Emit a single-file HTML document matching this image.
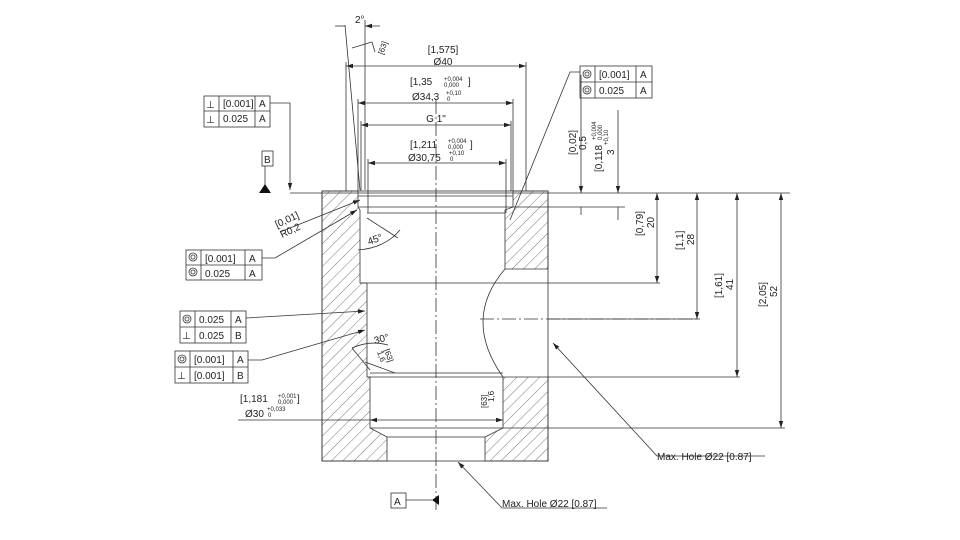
<!DOCTYPE html>
<html><head><meta charset="utf-8"><style>
html,body{margin:0;padding:0;background:#fff;}
svg{display:block;font-family:"Liberation Sans","DejaVu Sans",sans-serif;}
text{fill:#222;}
</style></head><body>
<svg width="960" height="540" viewBox="0 0 960 540" xmlns="http://www.w3.org/2000/svg">
<defs>
<pattern id="h" patternUnits="userSpaceOnUse" width="8" height="8" patternTransform="rotate(45)">
<line x1="0" y1="0" x2="0" y2="8" stroke="#555" stroke-width="0.8"/>
</pattern>
<marker id="a" markerWidth="8" markerHeight="6" refX="7" refY="3" orient="auto" markerUnits="userSpaceOnUse"><path d="M0,0.8 L7,3 L0,5.2z" fill="#222"/></marker>
<marker id="b" markerWidth="8" markerHeight="6" refX="1" refY="3" orient="auto" markerUnits="userSpaceOnUse"><path d="M8,0.8 L1,3 L8,5.2z" fill="#222"/></marker>
</defs>
<g stroke="#333" stroke-width="0.8" fill="none">
<path d="M322,191 L358,191 L358,207 L360,210 L360,283 L367,283 L367,377 L370,377 L370,428 L387,437 L387,461 L322,461Z" fill="url(#h)"/>
<path d="M513,191 L548,191 L548,269 L505,269 L505,210 L513,207Z" fill="url(#h)"/>
<path d="M503,377 L548,377 L548,461 L485,461 L485,437 L503,428Z" fill="url(#h)"/>
<rect x="322" y="191" width="226" height="270"/>
<line x1="358" y1="207" x2="513" y2="207"/>
<line x1="358" y1="196" x2="513" y2="196"/>
<line x1="367" y1="213" x2="505" y2="213"/>
<line x1="360" y1="283" x2="548" y2="283"/>
<line x1="367" y1="377" x2="503" y2="377"/>
<line x1="370" y1="373" x2="503" y2="373"/>
<line x1="370" y1="428" x2="548" y2="428"/>
<line x1="387" y1="437" x2="485" y2="437"/>
<path d="M505,269 Q462,319 503,377"/>
<line x1="436" y1="100" x2="436" y2="512" stroke-dasharray="14,3,2,3"/>
<line x1="480" y1="319" x2="700" y2="319" stroke-dasharray="14,3,2,3"/>
<line x1="290" y1="193" x2="790" y2="193"/>
<line x1="513" y1="207" x2="625" y2="207"/>
<line x1="548" y1="283" x2="660" y2="283"/>
<line x1="548" y1="319" x2="700" y2="319"/>
<line x1="548" y1="377" x2="740" y2="377"/>
<line x1="548" y1="428" x2="785" y2="428"/>
<line x1="581" y1="75" x2="581" y2="193" marker-end="url(#a)"/>
<line x1="581" y1="207" x2="581" y2="215"/>
<line x1="618" y1="110" x2="618" y2="193" marker-end="url(#a)"/>
<line x1="618" y1="207" x2="618" y2="220" />
<line x1="657" y1="193" x2="657" y2="283" marker-start="url(#b)" marker-end="url(#a)"/>
<line x1="697" y1="193" x2="697" y2="319" marker-start="url(#b)" marker-end="url(#a)"/>
<line x1="737" y1="193" x2="737" y2="377" marker-start="url(#b)" marker-end="url(#a)"/>
<line x1="781" y1="193" x2="781" y2="428" marker-start="url(#b)" marker-end="url(#a)"/>
<line x1="346" y1="62" x2="346" y2="191"/><line x1="526" y1="62" x2="526" y2="191"/>
<line x1="346" y1="66" x2="526" y2="66" marker-start="url(#b)" marker-end="url(#a)"/>
<line x1="358" y1="99" x2="358" y2="191"/><line x1="513" y1="99" x2="513" y2="191"/>
<line x1="358" y1="103" x2="513" y2="103" marker-start="url(#b)" marker-end="url(#a)"/>
<line x1="361" y1="121" x2="361" y2="191"/><line x1="511" y1="121" x2="511" y2="191"/>
<line x1="361" y1="125" x2="511" y2="125" marker-start="url(#b)" marker-end="url(#a)"/>
<line x1="368" y1="159" x2="368" y2="213"/><line x1="506" y1="159" x2="506" y2="213"/>
<line x1="368" y1="163" x2="506" y2="163" marker-start="url(#b)" marker-end="url(#a)"/>
<line x1="345" y1="25" x2="360" y2="190"/><line x1="365" y1="20" x2="365" y2="190"/>
<line x1="335" y1="26" x2="345" y2="26"/><line x1="365" y1="26" x2="380" y2="26" marker-start="url(#b)"/>
<path d="M352,48 L372,42 L375,52"/>
<polyline points="270,103 290,103 290,190" marker-end="url(#a)"/>
<line x1="265" y1="166" x2="265" y2="188"/>
<line x1="280" y1="232" x2="360" y2="200" marker-end="url(#a)"/>
<polyline points="262,258 275,258 357,210" marker-end="url(#a)"/>
<polyline points="246,318 365,311" marker-end="url(#a)"/>
<polyline points="248,360 262,360 365,330" marker-end="url(#a)"/>
<line x1="238" y1="420" x2="503" y2="420" marker-end="url(#a)"/>
<line x1="370" y1="420" x2="372" y2="420" marker-start="url(#b)"/>
<path d="M358,250 Q385,248 400,230" /><line x1="367" y1="218" x2="398" y2="238"/>
<path d="M352,348 Q370,340 388,345"/>
<line x1="352" y1="348" x2="370" y2="370"/>
<line x1="365" y1="362" x2="395" y2="373"/>
<polyline points="580,72 570,72 510,220" />
<line x1="657" y1="456" x2="553" y2="343" marker-end="url(#a)"/>
<line x1="657" y1="456" x2="765" y2="456"/>
<line x1="502" y1="508" x2="458" y2="462" marker-end="url(#a)"/>
<line x1="502" y1="508" x2="607" y2="508"/>
<line x1="406" y1="500" x2="432" y2="500"/>
<rect x="204" y="96" width="66" height="31"/><line x1="204" y1="111" x2="270" y2="111"/><line x1="219" y1="96" x2="219" y2="127"/><line x1="255" y1="96" x2="255" y2="127"/>
<rect x="262" y="151" width="11" height="15"/>
<rect x="186" y="250" width="76" height="30"/><line x1="186" y1="265" x2="262" y2="265"/><line x1="201" y1="250" x2="201" y2="280"/><line x1="245" y1="250" x2="245" y2="280"/>
<rect x="180" y="311" width="66" height="32"/><line x1="180" y1="327" x2="246" y2="327"/><line x1="195" y1="311" x2="195" y2="343"/><line x1="231" y1="311" x2="231" y2="343"/>
<rect x="175" y="351" width="73" height="32"/><line x1="175" y1="367" x2="248" y2="367"/><line x1="190" y1="351" x2="190" y2="383"/><line x1="233" y1="351" x2="233" y2="383"/>
<rect x="580" y="66" width="72" height="32"/><line x1="580" y1="82" x2="652" y2="82"/><line x1="595" y1="66" x2="595" y2="98"/><line x1="636" y1="66" x2="636" y2="98"/>
<rect x="391" y="493" width="15" height="15"/>
<circle cx="193" cy="257" r="4"/><circle cx="193" cy="257" r="2"/>
<circle cx="193" cy="272" r="4"/><circle cx="193" cy="272" r="2"/>
<circle cx="187" cy="319" r="4"/><circle cx="187" cy="319" r="2"/>
<circle cx="182" cy="359" r="4"/><circle cx="182" cy="359" r="2"/>
<circle cx="587" cy="74" r="4"/><circle cx="587" cy="74" r="2"/>
<circle cx="587" cy="90" r="4"/><circle cx="587" cy="90" r="2"/>
</g>
<path d="M259,193 L271,193 L265,184z" fill="#111"/>
<path d="M432,500 L439,495 L439,505z" fill="#111"/>
<g font-size="10">
<text x="206" y="108">⊥</text><text x="223" y="107">[0.001]</text><text x="259" y="107">A</text>
<text x="206" y="123">⊥</text><text x="223" y="122">0.025</text><text x="259" y="122">A</text>
<text x="264" y="163">B</text>
<text x="205" y="262">[0.001]</text><text x="249" y="262">A</text>
<text x="205" y="277">0.025</text><text x="249" y="277">A</text>
<text x="199" y="323">0.025</text><text x="235" y="323">A</text>
<text x="182" y="339">⊥</text><text x="199" y="339">0.025</text><text x="235" y="339">B</text>
<text x="194" y="363">[0.001]</text><text x="237" y="363">A</text>
<text x="177" y="379">⊥</text><text x="194" y="379">[0.001]</text><text x="237" y="379">B</text>
<text x="599" y="78">[0.001]</text><text x="640" y="78">A</text>
<text x="599" y="94">0.025</text><text x="640" y="94">A</text>
<text x="394" y="505">A</text>
<text x="355" y="23">2°</text>
<text x="443" y="53" text-anchor="middle">[1,575]</text>
<text x="443" y="65" text-anchor="middle">Ø40</text>
<text x="410" y="85">[1,35</text><text x="444" y="81" font-size="6">+0,004</text><text x="444" y="87" font-size="6">0,000</text><text x="468" y="85">]</text>
<text x="412" y="100">Ø34,3</text><text x="446" y="95" font-size="6">+0,10</text><text x="447" y="101" font-size="6">0</text>
<text x="436" y="122" text-anchor="middle">G 1"</text>
<text x="410" y="148">[1,211</text><text x="448" y="143" font-size="6">+0,004</text><text x="448" y="149" font-size="6">0,000</text><text x="470" y="148">]</text>
<text x="408" y="161">Ø30,75</text><text x="449" y="155" font-size="6">+0,10</text><text x="450" y="161" font-size="6">0</text>
<text x="240" y="402">[1,181</text><text x="278" y="398" font-size="6">+0,001</text><text x="278" y="404" font-size="6">0,000</text><text x="297" y="402">]</text>
<text x="245" y="417">Ø30</text><text x="267" y="411" font-size="6">+0,033</text><text x="268" y="417" font-size="6">0</text>
<text x="369" y="245" transform="rotate(-20 369 245)">45°</text>
<text x="375" y="344" transform="rotate(-15 375 344)">30°</text>
<text x="657" y="460">Max. Hole Ø22 [0.87]</text>
<text x="502" y="507">Max. Hole Ø22 [0.87]</text>
<text transform="translate(277,228) rotate(-25)">[0,01]</text>
<text transform="translate(282,238) rotate(-25)">R0,2</text>
<text transform="translate(576,155) rotate(-90)">[0,02]</text>
<text transform="translate(586,150) rotate(-90)">0,5</text>
<text transform="translate(602,172) rotate(-90)">[0,118</text><text transform="translate(596,140) rotate(-90)" font-size="6">+0,004</text><text transform="translate(602,140) rotate(-90)" font-size="6">0,000</text>
<text transform="translate(614,155) rotate(-90)">3</text><text transform="translate(608,145) rotate(-90)" font-size="6">+0,10</text>
<text transform="translate(643,236) rotate(-90)">[0,79]</text>
<text transform="translate(654,228) rotate(-90)">20</text>
<text transform="translate(683,250) rotate(-90)">[1,1]</text>
<text transform="translate(694,245) rotate(-90)">28</text>
<text transform="translate(722,298) rotate(-90)">[1,61]</text>
<text transform="translate(733,290) rotate(-90)">41</text>
<text transform="translate(766,307) rotate(-90)">[2,05]</text>
<text transform="translate(777,297) rotate(-90)">52</text>
<text transform="translate(383,55) rotate(-70)" font-size="8">[63]</text>
<text transform="translate(487,408) rotate(-90)" font-size="8">[63]</text>
<text transform="translate(494,402) rotate(-90)" font-size="8">1,6</text>
<text transform="translate(384,350) rotate(70)" font-size="8">[63]</text>
<text transform="translate(377,352) rotate(70)" font-size="8">1,6</text>
</g>
</svg>
</body></html>
